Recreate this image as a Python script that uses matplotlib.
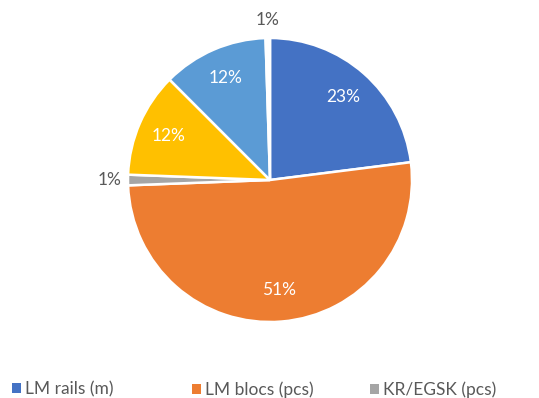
import matplotlib.pyplot as plt
import numpy as np

plt.rcParams['font.family'] = ['Lato', 'DejaVu Sans']

# slice order: clockwise from 12 o'clock
labels = ['LM rails (m)', 'LM blocs (pcs)', 'KR/EGSK (pcs)',
          'LM other (pcs)', 'KR rails (m)', 'KR other (pcs)']
shares = [23.0, 51.4, 1.2, 11.9, 12.0, 0.5]
colors = ['#4472c4', '#ed7d31', '#a5a5a5', '#ffc000', '#5b9bd5', '#ffffff']


def pct_label(p):
    return f'{int(p + 0.5)}%'


W, H = 539, 398
fig = plt.figure(figsize=(W / 100, H / 100), dpi=100)
ax = fig.add_axes([0.0, 0.0, 1.0, 1.0])

wedges, texts, pcts = ax.pie(
    shares, colors=colors, startangle=90, counterclock=False,
    autopct=pct_label, pctdistance=0.78, radius=1.0,
    wedgeprops=dict(edgecolor='white', linewidth=1.8),
    textprops=dict(color='white', fontsize=12.5))

# the thin slices get their labels outside the pie
for w, t, v in zip(wedges, pcts, shares):
    if v < 2:
        ang = np.deg2rad((w.theta1 + w.theta2) / 2)
        t.set_position((1.13 * np.cos(ang), 1.13 * np.sin(ang)))
        t.set_color('#595959')

# pie centre at (270, 180) px from top-left, radius 142 px
cx, cy, r = 270, 180, 142
ax.set_xlim(-cx / r, (W - cx) / r)
ax.set_ylim(-(H - cy) / r, cy / r)
ax.set_aspect('equal')
ax.axis('off')

# legend entries sit in fixed-width slots, like a spreadsheet legend
slot_x = [12, 192, 370]
for i, x in enumerate(slot_x):
    leg = fig.legend([wedges[i]], [labels[i]], loc='center left',
                     bbox_to_anchor=(x / W, 8.5 / H), frameon=False,
                     fontsize=12.5, handlelength=0.52, handleheight=0.52,
                     handletextpad=0.23, borderpad=0, borderaxespad=0,
                     labelcolor='#595959')
    leg.legend_handles[0].set_edgecolor('none')

fig.savefig('out.png', dpi=100)
